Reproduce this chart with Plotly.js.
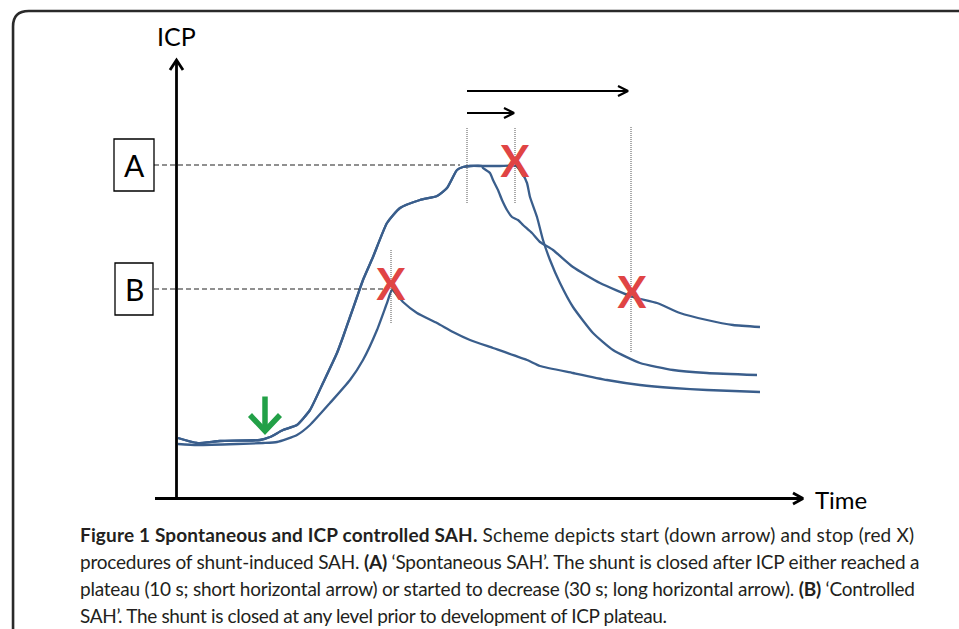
<!DOCTYPE html>
<html>
<head>
<meta charset="utf-8">
<script src="https://cdn.plot.ly/plotly-3.0.1.min.js"></script>
<style>
  html, body { margin: 0; padding: 0; background: #ffffff; }
  #chart { width: 959px; height: 629px; }
</style>
</head>
<body>
<div id="chart"></div>
<script>
// ---------------- data (arbitrary time units / ICP units) ----------------
// Spontaneous SAH: common rise to plateau A
const riseTime = [0.4, 4.2, 8.8, 16.8, 18.8, 21.4, 24.2, 26.8, 29.4, 32.2, 33.4, 34.8, 36.2, 37.4, 39.4, 42.2, 44.8, 48.8, 52.2, 54.2, 56.2, 57.4, 58.8, 61.2];
const riseIcp  = [11.8, 10.8, 11.2, 11.4, 12.0, 13.4, 14.4, 17.4, 22.8, 28.8, 32.0, 36.0, 40.0, 43.4, 48.0, 54.8, 57.8, 59.4, 60.2, 61.8, 65.4, 66.0, 66.2, 66.2];
// Spontaneous SAH, decay after ICP started to decrease (30 s, long arrow)
const decay30Time = [61.4, 62.8, 63.4, 64.4, 65.2, 66.2, 67.2, 68.4, 69.4, 71.2, 72.8, 75.4, 79.4, 84.8, 91.4, 96.2, 100.8, 106.2, 111.4, 116.8];
const decay30Icp  = [65.8, 64.8, 63.4, 61.4, 59.4, 57.4, 56.0, 55.4, 54.4, 52.8, 51.0, 49.4, 46.0, 42.8, 40.0, 38.8, 36.8, 35.4, 34.4, 34.0];
// Spontaneous SAH, plateau held 10 s (short arrow) then steep decay
const decay10Time = [64.8, 68.0, 69.2, 70.2, 70.8, 72.2, 73.4, 74.8, 76.8, 79.4, 83.4, 87.4, 92.8, 99.4, 106.2, 116.2];
const decay10Icp  = [66.2, 66.2, 64.8, 62.8, 60.0, 56.0, 51.4, 47.4, 42.8, 38.0, 32.8, 29.4, 26.8, 25.4, 24.8, 24.4];
// Controlled SAH (stopped at level B)
const ctrlTime = [0.4, 4.2, 12.2, 17.4, 20.2, 24.2, 26.8, 30.8, 34.8, 37.4, 40.2, 42.2, 43.2, 45.4, 48.2, 52.2, 55.4, 58.8, 63.4, 70.2, 72.8, 79.4, 86.2, 92.8, 99.4, 106.2, 116.8];
const ctrlIcp  = [10.6, 10.4, 10.6, 10.8, 11.0, 12.4, 14.4, 18.8, 23.4, 27.4, 33.4, 38.8, 41.4, 39.0, 36.8, 34.8, 33.0, 31.4, 29.8, 27.4, 26.2, 24.8, 23.4, 22.4, 21.8, 21.4, 21.0];

// start (green down arrow) and stops (red X)
const startTime = 17.8;
const startIcp = 16.6;
const stopNames = ['B', 'A 10 s', 'A 30 s'];
const stopTime = [43.0, 67.8, 91.2];
const stopIcp  = [41.6, 66.2, 40.0];

// ICP levels A and B
const levelNames = ['A', 'B'];
const levelIcp   = [66.4, 41.6];
const levelEnd   = [56.8, 41.4];

// dotted time guides
const guideTime   = [43.0, 58.2, 67.8, 91.0];
const guideTop    = [49.6, 73.8, 73.8, 74.0];
const guideBottom = [34.8, 58.8, 58.8, 29.0];

// duration arrows (long = 30 s, short = 10 s)
const durStart = [58.2, 58.2];
const durEnd   = [90.4, 67.6];
const durIcp   = [81.2, 76.8];

// axis extents
const timeAxisEnd = 125.4;
const icpAxisEnd = 87.4;

const captionLines = [
  '<b>Figure 1 Spontaneous and ICP controlled SAH.</b> Scheme depicts start (down arrow) and stop (red X)',
  'procedures of shunt-induced SAH. <b>(A)</b> \u2018Spontaneous SAH\u2019. The shunt is closed after ICP either reached a',
  'plateau (10 s; short horizontal arrow) or started to decrease (30 s; long horizontal arrow). <b>(B)</b> \u2018Controlled',
  'SAH\u2019. The shunt is closed at any level prior to development of ICP plateau.'
];
const captionWidths = [834, 839, 835, 587];

// ---------------- build ----------------
const blue = '#3A5E8C';
const curveLine = {color: blue, width: 2.3, shape: 'spline', smoothing: 0.5};
const traces = [];
function addLine(x, y, line) {
  traces.push({type: 'scatter', mode: 'lines', x: x, y: y, line: line, hoverinfo: 'skip', showlegend: false, cliponaxis: false});
}

addLine(riseTime.concat(decay30Time), riseIcp.concat(decay30Icp), curveLine);
addLine(riseTime.concat(decay10Time), riseIcp.concat(decay10Icp), curveLine);
addLine(ctrlTime, ctrlIcp, curveLine);

// axes with open arrow heads
const axisLine = {color: '#000', width: 2.8};
addLine([-4.2, timeAxisEnd, null, timeAxisEnd - 2, timeAxisEnd, timeAxisEnd - 2],
        [-0.3, -0.3, null, 0.8, -0.3, -1.4], axisLine);
addLine([0.1, 0.1, null, -1.2, 0.1, 1.4],
        [-0.6, icpAxisEnd, null, icpAxisEnd - 2, icpAxisEnd, icpAxisEnd - 2], axisLine);

// dashed level lines
for (let i = 0; i < levelNames.length; i++) {
  addLine([-4.4, levelEnd[i]], [levelIcp[i], levelIcp[i]], {color: '#222', width: 1.1, dash: '5px,3px'});
}
// dotted guides
for (let i = 0; i < guideTime.length; i++) {
  addLine([guideTime[i], guideTime[i]], [guideBottom[i], guideTop[i]], {color: '#555', width: 1, dash: '1px,1px'});
}
// duration arrows
for (let i = 0; i < durStart.length; i++) {
  addLine([durStart[i], durEnd[i], null, durEnd[i] - 2, durEnd[i], durEnd[i] - 2],
          [durIcp[i], durIcp[i], null, durIcp[i] + 1.0, durIcp[i], durIcp[i] - 1.0],
          {color: '#000', width: 2.2});
}
// green start arrow
addLine([startTime, startTime, null, startTime - 3, startTime, startTime + 3],
        [startIcp + 3.5, startIcp - 3.4, null, startIcp - 0.2, startIcp - 3.4, startIcp - 0.2],
        {color: '#22A047', width: 5.5});
// red X stops
traces.push({type: 'scatter', mode: 'text', x: stopTime, y: stopIcp, text: stopTime.map(() => 'X'),
  textposition: 'middle center', hoverinfo: 'skip', showlegend: false, cliponaxis: false,
  textfont: {family: 'Lato, DejaVu Sans', size: 43, color: '#E04444', weight: 'bold'}});

const annotations = [
  {x: 0, y: 92.2, xref: 'x', yref: 'y', text: 'ICP', showarrow: false, font: {family: 'Lato', size: 25, color: '#000'}},
  {x: 133, y: -0.4, xref: 'x', yref: 'y', text: 'Time', showarrow: false, font: {family: 'Lato', size: 24, color: '#000'}}
];
for (let i = 0; i < levelNames.length; i++) {
  annotations.push({x: -8.4, y: levelIcp[i], xref: 'x', yref: 'y', text: levelNames[i], showarrow: false,
    font: {family: 'Lato', size: 30, color: '#000'}});
}
const captionY = [534, 561, 588, 615];
for (let i = 0; i < captionLines.length; i++) {
  annotations.push({x: 78 / 959, y: 1 - captionY[i] / 629, xref: 'paper', yref: 'paper', xanchor: 'left', yanchor: 'middle',
    text: captionLines[i], showarrow: false, align: 'left',
    font: {family: 'Lato', size: 19, color: '#231F20'}});
}

const shapes = [
  // boxes A and B
  {type: 'rect', xref: 'x', yref: 'y', x0: -12.4, x1: -4.4, y0: 61.2, y1: 71.6, line: {color: '#000', width: 1.3}},
  {type: 'rect', xref: 'x', yref: 'y', x0: -12.2, x1: -4.6, y0: 36.4, y1: 46.8, line: {color: '#000', width: 1.3}},
  // rounded frame (top-left corner visible)
  {type: 'path', xref: 'paper', yref: 'paper',
   path: 'M 0.0136,-0.2 L 0.0136,0.958 Q 0.0136,0.9825 0.0300,0.9825 L 1.2,0.9825',
   line: {color: '#2a2a2a', width: 2.6}}
];

const layout = {
  width: 959, height: 629,
  margin: {l: 0, r: 0, t: 0, b: 0},
  paper_bgcolor: '#ffffff', plot_bgcolor: '#ffffff',
  xaxis: {range: [-35.2, 156.6], visible: false, fixedrange: true},
  yaxis: {range: [-26.4, 99.4], visible: false, fixedrange: true},
  showlegend: false,
  annotations: annotations,
  shapes: shapes
};

Plotly.newPlot('chart', traces, layout, {staticPlot: true, displayModeBar: false}).then(function () {
  const nFixed = annotations.length - captionLines.length;
  for (let i = 0; i < captionLines.length; i++) {
    const t = document.querySelector('g.annotation[data-index="' + (nFixed + i) + '"] text.annotation-text');
    if (t) {
      const w = t.getComputedTextLength();
      const n = t.textContent.length;
      if (w > 0 && n > 1) {
        t.style.letterSpacing = ((captionWidths[i] - w) / (n - 1)).toFixed(3) + 'px';
      }
    }
  }
});
</script>
</body>
</html>
